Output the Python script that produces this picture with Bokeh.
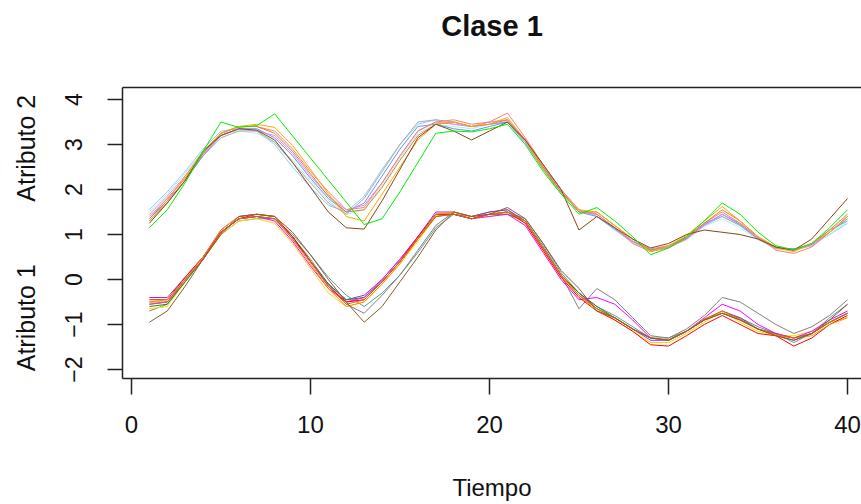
from bokeh.plotting import figure
from bokeh.models import FixedTicker, LinearAxis
from bokeh.embed import file_html
from bokeh.resources import INLINE

# ---------------- data ----------------
tiempo = list(range(1, 41))
x_ticks = [0, 10, 20, 30, 40]
y_ticks = [-2, -1, 0, 1, 2, 3, 4]

# Atributo 2 (upper band)
a2_verde = [1.15,1.55,2.15,2.85,3.50,3.38,3.42,3.68,3.19,2.70,2.21,1.72,1.22,1.35,1.95,2.60,3.25,3.30,3.28,3.35,
            3.45,3.00,2.40,1.90,1.45,1.60,1.30,0.95,0.55,0.70,0.95,1.30,1.70,1.45,1.05,0.75,0.66,0.80,1.15,1.55]
a2_marron = [1.25,1.70,2.20,2.85,3.20,3.35,3.32,3.10,2.60,2.05,1.50,1.15,1.12,1.75,2.45,3.15,3.45,3.30,3.10,3.30,
             3.50,3.10,2.55,2.00,1.10,1.40,1.15,0.90,0.70,0.80,1.00,1.10,1.05,1.00,0.90,0.72,0.65,0.90,1.35,1.80]
a2_naranja = [1.30,1.75,2.30,2.85,3.25,3.40,3.45,3.38,2.98,2.45,1.90,1.40,1.30,1.90,2.50,3.10,3.45,3.50,3.40,3.45,
              3.60,3.10,2.45,1.90,1.55,1.50,1.20,0.90,0.62,0.75,0.98,1.30,1.62,1.30,0.95,0.70,0.62,0.80,1.05,1.40]
a2_celeste = [1.55,1.95,2.40,2.90,3.30,3.35,3.30,3.00,2.50,2.05,1.65,1.50,1.85,2.45,3.00,3.45,3.55,3.45,3.40,3.50,
              3.50,3.05,2.45,1.95,1.55,1.40,1.10,0.82,0.66,0.72,0.90,1.20,1.40,1.20,0.90,0.68,0.66,0.75,1.00,1.25]
a2_violeta = [1.45,1.85,2.30,2.80,3.20,3.35,3.30,3.20,2.80,2.30,1.85,1.55,1.65,2.15,2.75,3.30,3.50,3.45,3.40,3.50,
              3.55,3.05,2.50,1.95,1.50,1.45,1.15,0.85,0.65,0.72,0.90,1.20,1.45,1.25,0.92,0.72,0.66,0.75,1.05,1.40]
a2_gris = [1.35,1.80,2.25,2.75,3.15,3.30,3.30,3.05,2.60,2.15,1.70,1.45,1.80,2.40,3.00,3.50,3.55,3.50,3.40,3.45,
           3.50,3.10,2.55,2.00,1.50,1.45,1.15,0.85,0.68,0.75,0.92,1.25,1.40,1.20,0.90,0.70,0.68,0.78,1.10,1.30]
a2_turquesa = [1.50,1.90,2.35,2.85,3.25,3.30,3.25,3.05,2.65,2.20,1.75,1.45,1.55,2.10,2.70,3.25,3.45,3.40,3.35,3.45,
               3.50,3.00,2.50,2.00,1.55,1.40,1.10,0.85,0.66,0.72,0.88,1.18,1.35,1.15,0.88,0.70,0.66,0.76,1.00,1.30]
a2_salmon = [1.40,1.80,2.25,2.80,3.25,3.40,3.40,3.30,2.90,2.40,1.95,1.55,1.60,2.15,2.75,3.30,3.50,3.55,3.45,3.50,
             3.70,3.15,2.55,2.00,1.55,1.45,1.15,0.80,0.62,0.70,0.90,1.25,1.50,1.25,0.95,0.65,0.58,0.72,1.05,1.40]
a2_azul = [1.35,1.75,2.20,2.75,3.20,3.35,3.35,3.15,2.75,2.25,1.80,1.50,1.70,2.30,2.90,3.40,3.45,3.35,3.30,3.40,
           3.50,3.05,2.45,1.95,1.50,1.40,1.12,0.85,0.65,0.72,0.92,1.22,1.45,1.22,0.92,0.70,0.68,0.78,1.05,1.35]
a2_ocre = [1.30,1.70,2.20,2.80,3.25,3.40,3.40,3.25,2.85,2.35,1.85,1.50,1.55,2.05,2.65,3.20,3.45,3.50,3.40,3.45,
           3.55,3.10,2.50,1.95,1.50,1.50,1.20,0.90,0.65,0.75,0.95,1.25,1.55,1.30,0.95,0.72,0.65,0.80,1.10,1.45]

# Atributo 1 (lower band)
a1_marron = [-0.95,-0.70,-0.15,0.45,1.00,1.40,1.45,1.40,1.05,0.55,0.00,-0.50,-0.95,-0.60,-0.05,0.50,1.10,1.50,1.40,1.45,
             1.60,1.35,0.80,0.20,-0.20,-0.70,-0.85,-1.10,-1.30,-1.35,-1.15,-0.90,-0.75,-0.90,-1.10,-1.25,-1.35,-1.20,-0.90,-0.55]
a1_gris = [-0.70,-0.55,-0.05,0.45,1.05,1.35,1.40,1.35,0.95,0.45,-0.10,-0.55,-0.75,-0.35,0.10,0.65,1.20,1.50,1.40,1.50,
           1.55,1.30,0.75,0.10,-0.65,-0.20,-0.45,-0.85,-1.25,-1.30,-1.10,-0.80,-0.40,-0.50,-0.75,-1.00,-1.20,-1.05,-0.80,-0.45]
a1_rojo = [-0.45,-0.45,0.05,0.50,1.05,1.35,1.45,1.40,0.95,0.40,-0.15,-0.50,-0.45,-0.05,0.40,0.95,1.45,1.45,1.35,1.45,
           1.50,1.25,0.65,0.05,-0.40,-0.70,-0.90,-1.15,-1.45,-1.48,-1.25,-1.00,-0.80,-1.00,-1.20,-1.25,-1.48,-1.30,-1.00,-0.80]
a1_naranja = [-0.50,-0.45,0.00,0.50,1.10,1.40,1.45,1.40,0.90,0.35,-0.20,-0.60,-0.50,-0.10,0.35,0.90,1.45,1.50,1.40,1.45,
              1.50,1.30,0.70,0.10,-0.35,-0.70,-0.85,-1.10,-1.30,-1.35,-1.15,-0.88,-0.75,-0.90,-1.10,-1.25,-1.30,-1.25,-1.00,-0.85]
a1_magenta = [-0.55,-0.50,0.00,0.45,1.05,1.35,1.40,1.30,0.85,0.30,-0.20,-0.50,-0.40,0.00,0.45,0.95,1.45,1.45,1.35,1.40,
              1.45,1.20,0.60,0.00,-0.45,-0.40,-0.55,-0.90,-1.30,-1.35,-1.15,-0.85,-0.55,-0.70,-1.00,-1.20,-1.30,-1.15,-0.90,-0.70]
a1_verde = [-0.60,-0.55,-0.05,0.45,1.05,1.35,1.40,1.35,0.95,0.40,-0.10,-0.45,-0.40,-0.05,0.40,0.90,1.40,1.45,1.35,1.45,
            1.45,1.30,0.70,0.10,-0.30,-0.60,-0.85,-1.10,-1.30,-1.35,-1.15,-0.90,-0.75,-0.90,-1.10,-1.20,-1.30,-1.20,-0.95,-0.75]
a1_cian = [-0.50,-0.50,-0.05,0.45,1.00,1.30,1.35,1.35,1.00,0.55,0.05,-0.35,-0.60,-0.30,0.10,0.60,1.15,1.45,1.40,1.45,
           1.50,1.35,0.80,0.15,-0.30,-0.60,-0.80,-1.05,-1.30,-1.30,-1.15,-0.90,-0.75,-0.85,-1.05,-1.20,-1.40,-1.20,-0.85,-0.55]
a1_dorado = [-0.65,-0.60,-0.05,0.45,1.00,1.30,1.35,1.25,0.80,0.25,-0.30,-0.60,-0.50,-0.10,0.35,0.85,1.40,1.50,1.40,1.40,
             1.50,1.25,0.65,0.05,-0.35,-0.65,-0.90,-1.15,-1.40,-1.40,-1.20,-0.95,-0.70,-0.95,-1.15,-1.25,-1.25,-1.15,-0.95,-0.85]
a1_purpura = [-0.40,-0.40,0.05,0.50,1.10,1.40,1.45,1.40,0.95,0.40,-0.10,-0.45,-0.35,0.00,0.45,0.95,1.50,1.50,1.40,1.50,
              1.55,1.30,0.70,0.10,-0.30,-0.65,-0.85,-1.10,-1.35,-1.35,-1.15,-0.90,-0.70,-0.85,-1.10,-1.25,-1.35,-1.20,-0.95,-0.75]
a1_chocolate = [-0.55,-0.50,0.00,0.45,1.05,1.35,1.40,1.35,0.90,0.40,-0.15,-0.55,-0.45,-0.05,0.40,0.90,1.40,1.45,1.35,1.45,
                1.50,1.30,0.70,0.10,-0.35,-0.65,-0.85,-1.10,-1.30,-1.35,-1.15,-0.88,-0.70,-0.88,-1.10,-1.22,-1.30,-1.20,-0.95,-0.75]

series_a2 = [
    (a2_celeste, "#87CEFA"), (a2_turquesa, "#AFEEEE"), (a2_gris, "#A9A9A9"), (a2_azul, "#6495ED"),
    (a2_violeta, "#EE82EE"), (a2_salmon, "#FA8072"), (a2_ocre, "#CD853F"), (a2_naranja, "#FFA500"),
    (a2_marron, "#8B4513"), (a2_verde, "#00EE00"),
]
series_a1 = [
    (a1_cian, "#5F9EA0"), (a1_gris, "#808080"), (a1_purpura, "#9932CC"), (a1_dorado, "#FFD700"),
    (a1_verde, "#228B22"), (a1_magenta, "#FF00FF"), (a1_rojo, "#FF0000"), (a1_naranja, "#FF8C00"),
    (a1_chocolate, "#D2691E"), (a1_marron, "#8B5A2B"),
]

FONT = "Liberation Sans"
NB = "\u00a0"
INK = "#111111"
BOX = "#222222"

p = figure(width=861, height=504, x_range=(-0.5, 40.78), y_range=(-2.2, 4.267),
           output_backend="svg", toolbar_location=None, title=None,
           min_border_left=122, min_border_right=0, min_border_top=87, min_border_bottom=126)
p.grid.visible = False
p.outline_line_color = None
p.background_fill_color = "white"
p.border_fill_color = "white"

for ys, c in series_a2 + series_a1:
    p.line(tiempo, ys, line_color=c, line_width=1)

bottom_axis = p.below[0]
left_axis = p.left[0]

for ax in (bottom_axis, left_axis):
    ax.axis_line_color = BOX
    ax.axis_line_width = 1.5
    ax.major_tick_line_color = BOX
    ax.major_tick_line_width = 1.5
    ax.major_tick_in = 0
    ax.minor_tick_line_color = None
    ax.major_label_text_font = FONT
    ax.major_label_text_color = INK
    ax.axis_label_text_font = FONT
    ax.axis_label_text_font_style = "normal"
    ax.axis_label_text_color = INK

bottom_axis.ticker = FixedTicker(ticks=x_ticks)
bottom_axis.major_tick_out = 16
bottom_axis.major_label_text_font_size = "24px"
bottom_axis.major_label_standoff = 21
bottom_axis.axis_label = "Tiempo"
bottom_axis.axis_label_text_font_size = "24px"
bottom_axis.axis_label_standoff = 38

left_axis.ticker = FixedTicker(ticks=y_ticks)
left_axis.major_tick_out = 15
left_axis.major_label_text_font_size = "23px"
left_axis.major_label_orientation = "vertical"
left_axis.major_label_standoff = 25
left_axis.axis_label = "Atributo 1" + NB * 9 + "Atributo 2"
left_axis.axis_label_text_font_size = "25px"
left_axis.axis_label_standoff = 23

# top axis: draws the top edge of the box and carries the chart title "Clase 1"
top_axis = LinearAxis(ticker=FixedTicker(ticks=[]), axis_label="Clase 1")
top_axis.axis_line_color = BOX
top_axis.axis_line_width = 1.5
top_axis.major_tick_line_color = None
top_axis.minor_tick_line_color = None
top_axis.major_label_text_font_size = "0px"
top_axis.major_label_standoff = 0
top_axis.major_tick_out = 0
top_axis.major_tick_in = 0
top_axis.axis_label_text_font = FONT
top_axis.axis_label_text_font_size = "29px"
top_axis.axis_label_text_font_style = "bold"
top_axis.axis_label_text_color = INK
top_axis.axis_label_standoff = 46
p.add_layout(top_axis, "above")

open("out.html", "w").write(file_html(p, INLINE))
